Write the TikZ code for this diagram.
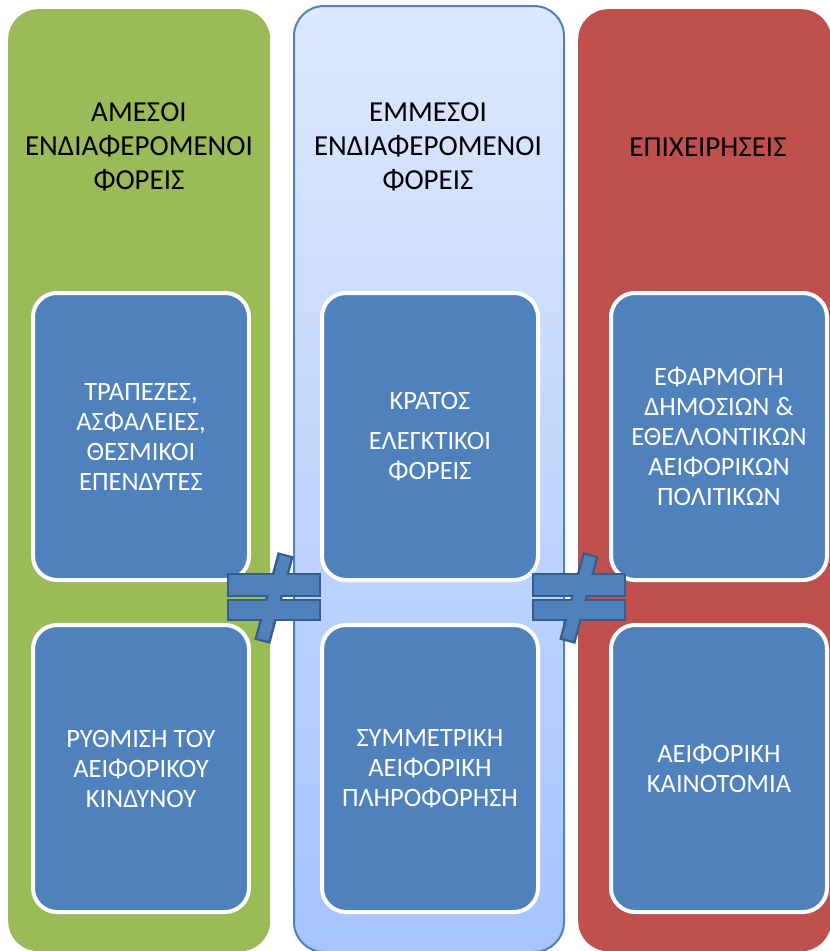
\documentclass[tikz,border=0pt]{standalone}
\usepackage{fontspec}
\setmainfont{Carlito}
\definecolor{greencol}{HTML}{9BBB59}
\definecolor{redcol}{HTML}{C0504D}
\definecolor{bluebox}{HTML}{4F81BD}
\definecolor{blueline}{HTML}{385D8A}
\definecolor{midtop}{HTML}{DDE8FC}
\definecolor{midbottom}{HTML}{A6C4FF}
\begin{document}
\begin{tikzpicture}[x=1pt,y=-1pt]
\tikzset{column/.style={rounded corners=30pt, inner sep=0pt},
  heading/.style={align=center, font=\fontsize{29}{34}\selectfont, text=black},
  itembox/.style={draw=white, line width=4pt, fill=bluebox, rounded corners=24pt,
    minimum width=216pt, minimum height=287pt, inner sep=0pt, anchor=north west,
    align=center, text=white, font=\fontsize{26.5}{30}\selectfont},
  barpart/.style={fill=bluebox, draw=blueline, line width=2.5pt}}
\useasboundingbox (0,0) rectangle (830,951);
\clip (0,0) rectangle (830,951);
% columns
\node[column, fill=greencol, minimum width=262pt, minimum height=942pt, anchor=north west] (direct) at (8,9) {};
\node[column, top color=midtop, bottom color=midbottom, draw=bluebox, line width=2pt,
  minimum width=270pt, minimum height=946pt, anchor=north west] (indirect) at (293,5) {};
\node[column, fill=redcol, minimum width=253pt, minimum height=942pt, anchor=north west] (firms) at (578,9) {};
% headings
\node[heading] (directtitle) at (139,147) {ΑΜΕΣΟΙ\\ΕΝΔΙΑΦΕΡΟΜΕΝΟΙ\\ΦΟΡΕΙΣ};
\node[heading] (indirecttitle) at (428,147) {ΕΜΜΕΣΟΙ\\ΕΝΔΙΑΦΕΡΟΜΕΝΟΙ\\ΦΟΡΕΙΣ};
\node[heading] (firmstitle) at (708,147) {ΕΠΙΧΕΙΡΗΣΕΙΣ};
% boxes
\node[itembox] (banks) at (31,291) {ΤΡΑΠΕΖΕΣ,\\ΑΣΦΑΛΕΙΕΣ,\\ΘΕΣΜΙΚΟΙ\\ΕΠΕΝΔΥΤΕΣ};
\node[itembox] (risk) at (31,623) {ΡΥΘΜΙΣΗ ΤΟΥ\\ΑΕΙΦΟΡΙΚΟΥ\\ΚΙΝΔΥΝΟΥ};
\node[itembox] (state) at (320,291) {ΚΡΑΤΟΣ\\[10pt]ΕΛΕΓΚΤΙΚΟΙ\\ΦΟΡΕΙΣ};
\node[itembox] (info) at (320,623) {ΣΥΜΜΕΤΡΙΚΗ\\ΑΕΙΦΟΡΙΚΗ\\ΠΛΗΡΟΦΟΡΗΣΗ};
\node[itembox] (policy) at (609,291) {ΕΦΑΡΜΟΓΗ\\ΔΗΜΟΣΙΩΝ \&\\ΕΘΕΛΛΟΝΤΙΚΏΝ\\ΑΕΙΦΟΡΙΚΏΝ\\ΠΟΛΙΤΙΚΩΝ};
\node[itembox] (innov) at (609,623) {ΑΕΙΦΟΡΙΚΗ\\ΚΑΙΝΟΤΟΜΙΑ};
% not-equal signs
\foreach \cx/\name in {274/left, 579/right} {
  \coordinate (ne\name) at (\cx,598);
  \draw[barpart, rotate around={75:(ne\name)}] ([shift={(-44,-7)}]ne\name) rectangle ([shift={(44,7)}]ne\name);
  \draw[barpart] ([shift={(-46,-24)}]ne\name) rectangle ([shift={(46,-2)}]ne\name);
  \draw[barpart] ([shift={(-46,2)}]ne\name) rectangle ([shift={(46,22)}]ne\name);
  \fill[bluebox, rotate around={75:(ne\name)}] ([shift={(-43,-5.7)}]ne\name) rectangle ([shift={(43,5.7)}]ne\name);
}
\end{tikzpicture}
\end{document}
